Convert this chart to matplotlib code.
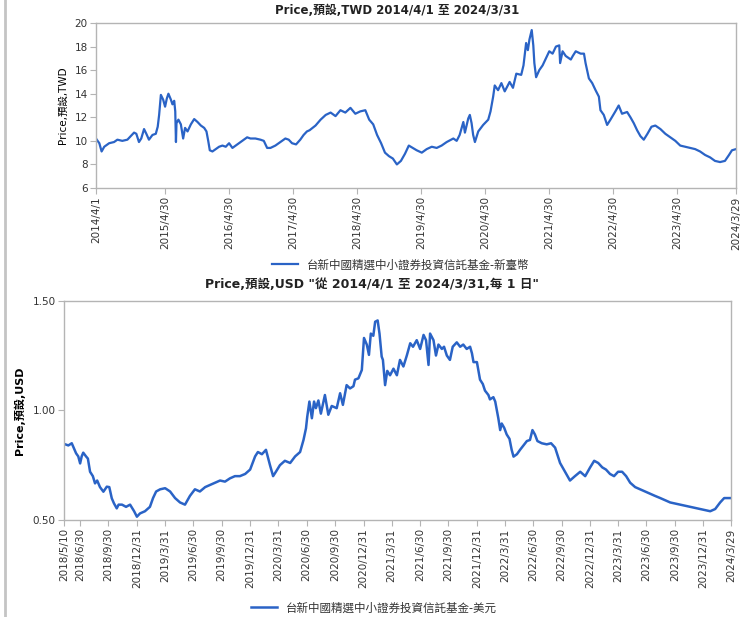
import matplotlib
matplotlib.use("Agg")
import matplotlib.pyplot as plt
from matplotlib.lines import Line2D
from matplotlib import font_manager
import pandas as pd

# ---------------- data: TWD series ----------------
twd_dates = [
    "2014-04-01", "2014-04-10", "2014-04-20", "2014-05-03", "2014-05-18", "2014-06-15", "2014-07-13",
    "2014-08-01", "2014-08-29", "2014-09-27", "2014-10-16", "2014-11-04", "2014-11-17", "2014-12-02",
    "2014-12-15", "2014-12-31", "2015-01-13", "2015-01-28", "2015-02-17", "2015-03-08", "2015-03-19",
    "2015-03-27", "2015-04-06", "2015-04-19", "2015-04-30", "2015-05-10", "2015-05-19", "2015-06-02",
    "2015-06-11", "2015-06-21", "2015-06-27", "2015-07-01", "2015-07-04", "2015-07-15", "2015-07-29",
    "2015-08-11", "2015-08-22", "2015-09-05", "2015-09-24", "2015-10-13", "2015-11-01", "2015-11-20",
    "2015-12-09", "2015-12-22", "2016-01-01", "2016-01-10", "2016-01-25", "2016-02-13", "2016-03-03",
    "2016-03-22", "2016-04-10", "2016-04-29", "2016-05-18", "2016-06-15", "2016-07-13", "2016-08-10",
    "2016-08-29", "2016-09-26", "2016-10-25", "2016-11-13", "2016-12-02", "2016-12-21", "2017-01-18",
    "2017-02-15", "2017-03-16", "2017-04-04", "2017-04-23", "2017-05-16", "2017-06-09", "2017-06-28",
    "2017-07-17", "2017-08-01", "2017-09-04", "2017-10-03", "2017-11-01", "2017-11-29", "2017-12-27",
    "2018-01-24", "2018-02-21", "2018-03-22", "2018-04-19", "2018-05-17", "2018-06-15", "2018-07-07",
    "2018-07-30", "2018-08-21", "2018-09-13", "2018-10-05", "2018-10-28", "2018-11-19", "2018-12-12",
    "2019-01-04", "2019-01-27", "2019-02-18", "2019-03-13", "2019-04-04", "2019-05-03", "2019-05-31",
    "2019-06-29", "2019-07-27", "2019-08-24", "2019-09-22", "2019-10-30", "2019-11-18", "2019-12-05",
    "2019-12-26", "2020-01-04", "2020-01-23", "2020-02-01", "2020-02-11", "2020-02-20", "2020-03-01",
    "2020-03-20", "2020-04-17", "2020-05-16", "2020-05-29", "2020-06-13", "2020-06-22", "2020-07-11",
    "2020-07-30", "2020-08-18", "2020-09-15", "2020-10-04", "2020-10-23", "2020-11-20", "2020-12-03",
    "2020-12-18", "2020-12-28", "2021-01-06", "2021-01-19", "2021-01-28", "2021-02-03", "2021-02-13",
    "2021-03-03", "2021-03-22", "2021-04-10", "2021-04-29", "2021-05-18", "2021-06-06", "2021-06-25",
    "2021-06-30", "2021-07-14", "2021-08-01", "2021-08-30", "2021-09-10", "2021-09-27", "2021-10-25",
    "2021-11-13", "2021-11-22", "2021-12-11", "2021-12-30", "2022-01-18", "2022-02-06", "2022-02-15",
    "2022-03-06", "2022-03-25", "2022-04-13", "2022-05-11", "2022-05-30", "2022-06-18", "2022-07-17",
    "2022-08-05", "2022-08-24", "2022-09-12", "2022-10-01", "2022-10-20", "2022-11-10", "2022-12-03",
    "2022-12-25", "2023-01-23", "2023-02-20", "2023-03-21", "2023-04-18", "2023-05-16", "2023-06-14",
    "2023-07-12", "2023-08-09", "2023-09-06", "2023-10-05", "2023-11-02", "2023-11-30", "2023-12-29",
    "2024-01-26", "2024-02-18", "2024-03-06", "2024-03-29",
]
twd_values = [
    10.2, 10.0, 9.8, 9.1, 9.5, 9.8, 9.9,
    10.1, 10.0, 10.1, 10.4, 10.7, 10.6, 9.9,
    10.2, 11.0, 10.6, 10.1, 10.5, 10.6, 11.2,
    12.2, 13.9, 13.5, 12.9, 13.6, 14.0, 13.5,
    13.1, 13.4, 12.5, 9.9, 11.5, 11.8, 11.4,
    10.2, 11.1, 10.8, 11.4, 11.85, 11.6, 11.3,
    11.1, 10.8, 10.0, 9.2, 9.1, 9.3, 9.5,
    9.6, 9.5, 9.8, 9.4, 9.7, 10.0, 10.3,
    10.2, 10.2, 10.1, 10.0, 9.4, 9.4, 9.6,
    9.9, 10.2, 10.1, 9.8, 9.7, 10.1, 10.5,
    10.8, 10.9, 11.3, 11.8, 12.2, 12.4, 12.1,
    12.6, 12.4, 12.8, 12.3, 12.5, 12.6, 11.8,
    11.4, 10.5, 9.8, 9.0, 8.7, 8.5, 8.0,
    8.3, 8.9, 9.6, 9.4, 9.2, 9.0, 9.3,
    9.5, 9.4, 9.6, 9.9, 10.2, 10.0, 10.5,
    11.6, 10.7, 11.9, 12.2, 11.5, 10.5, 9.9,
    10.8, 11.35, 11.8, 12.5, 13.75, 14.7, 14.3,
    14.9, 14.2, 15.0, 14.5, 15.7, 15.6, 16.4,
    18.3, 17.7, 18.6, 19.4, 18.1, 16.6, 15.4,
    16.0, 16.4, 17.0, 17.6, 17.4, 18.0, 18.1,
    16.6, 17.6, 17.2, 16.9, 17.2, 17.6, 17.4,
    17.4, 16.6, 15.3, 14.9, 14.3, 13.75, 12.6,
    12.2, 11.35, 11.8, 12.5, 13.0, 12.3, 12.45,
    12.0, 11.5, 10.9, 10.4, 10.1, 10.6, 11.2,
    11.3, 11.0, 10.6, 10.3, 10.0, 9.6, 9.5,
    9.4, 9.3, 9.1, 8.8, 8.6, 8.3, 8.2,
    8.3, 8.8, 9.2, 9.3,
]

# ---------------- data: USD series ----------------
usd_dates = [
    "2018-05-10", "2018-05-24", "2018-06-04", "2018-06-18", "2018-06-25", "2018-07-01", "2018-07-06",
    "2018-07-11", "2018-07-20", "2018-07-26", "2018-08-02", "2018-08-11", "2018-08-18", "2018-08-25",
    "2018-09-03", "2018-09-14", "2018-09-25", "2018-10-03", "2018-10-11", "2018-10-18", "2018-10-27",
    "2018-11-02", "2018-11-13", "2018-11-26", "2018-12-09", "2018-12-22", "2018-12-31", "2019-01-10",
    "2019-01-26", "2019-02-11", "2019-02-21", "2019-03-03", "2019-03-16", "2019-04-01", "2019-04-17",
    "2019-05-03", "2019-05-19", "2019-06-04", "2019-06-20", "2019-07-06", "2019-07-22", "2019-08-08",
    "2019-08-24", "2019-09-09", "2019-09-25", "2019-10-11", "2019-10-27", "2019-11-12", "2019-11-28",
    "2019-12-15", "2019-12-31", "2020-01-16", "2020-01-25", "2020-02-07", "2020-02-20", "2020-03-04",
    "2020-03-14", "2020-03-23", "2020-04-05", "2020-04-21", "2020-05-08", "2020-05-24", "2020-06-09",
    "2020-06-20", "2020-06-28", "2020-07-02", "2020-07-09", "2020-07-17", "2020-07-24", "2020-07-30",
    "2020-08-07", "2020-08-15", "2020-08-28", "2020-09-08", "2020-09-19", "2020-10-05", "2020-10-16",
    "2020-10-25", "2020-11-06", "2020-11-17", "2020-11-28", "2020-12-03", "2020-12-14", "2020-12-25",
    "2021-01-01", "2021-01-10", "2021-01-17", "2021-01-23", "2021-01-31", "2021-02-06", "2021-02-14",
    "2021-02-20", "2021-02-27", "2021-03-03", "2021-03-10", "2021-03-17", "2021-03-26", "2021-04-06",
    "2021-04-17", "2021-04-27", "2021-05-08", "2021-05-19", "2021-05-30", "2021-06-08", "2021-06-20",
    "2021-07-01", "2021-07-12", "2021-07-20", "2021-07-28", "2021-08-02", "2021-08-13", "2021-08-21",
    "2021-08-29", "2021-09-09", "2021-09-16", "2021-09-25", "2021-10-05", "2021-10-14", "2021-10-27",
    "2021-11-07", "2021-11-17", "2021-11-28", "2021-12-09", "2021-12-15", "2021-12-20", "2021-12-31",
    "2022-01-10", "2022-01-19", "2022-01-26", "2022-02-06", "2022-02-11", "2022-02-22", "2022-02-28",
    "2022-03-10", "2022-03-16", "2022-03-21", "2022-03-29", "2022-04-06", "2022-04-15", "2022-04-22",
    "2022-04-28", "2022-05-09", "2022-05-19", "2022-05-30", "2022-06-10", "2022-06-20", "2022-06-28",
    "2022-07-06", "2022-07-14", "2022-07-28", "2022-08-13", "2022-08-27", "2022-09-09", "2022-09-25",
    "2022-10-11", "2022-10-27", "2022-11-12", "2022-11-29", "2022-12-15", "2022-12-31", "2023-01-13",
    "2023-01-26", "2023-02-08", "2023-02-20", "2023-03-05", "2023-03-18", "2023-03-31", "2023-04-13",
    "2023-04-26", "2023-05-09", "2023-05-25", "2023-06-10", "2023-06-26", "2023-07-12", "2023-07-28",
    "2023-08-14", "2023-08-30", "2023-09-15", "2023-10-01", "2023-10-17", "2023-11-02", "2023-11-18",
    "2023-12-04", "2023-12-20", "2024-01-06", "2024-01-22", "2024-02-07", "2024-02-23", "2024-03-07",
    "2024-03-29",
]
usd_values = [
    0.847, 0.84, 0.85, 0.804, 0.79, 0.758, 0.79,
    0.807, 0.79, 0.78, 0.72, 0.70, 0.667, 0.68,
    0.65, 0.629, 0.652, 0.65, 0.599, 0.576, 0.553,
    0.57, 0.57, 0.56, 0.57, 0.54, 0.515, 0.53,
    0.54, 0.56, 0.60, 0.63, 0.64, 0.645, 0.63,
    0.60, 0.58, 0.57, 0.61, 0.64, 0.63, 0.65,
    0.66, 0.67, 0.68, 0.675, 0.69, 0.70, 0.70,
    0.71, 0.73, 0.79, 0.81, 0.80, 0.82, 0.75,
    0.70, 0.72, 0.75, 0.77, 0.76, 0.79, 0.81,
    0.865, 0.918, 0.97, 1.04, 0.964, 1.04, 1.01,
    1.045, 0.985, 1.07, 0.98, 1.02, 1.01, 1.078,
    1.025, 1.115, 1.10, 1.11, 1.14, 1.146, 1.184,
    1.33, 1.30, 1.253, 1.35, 1.34, 1.404, 1.41,
    1.35, 1.245, 1.23, 1.115, 1.18, 1.16, 1.19,
    1.16, 1.23, 1.20, 1.25, 1.306, 1.29, 1.32,
    1.28, 1.344, 1.32, 1.207, 1.35, 1.32, 1.25,
    1.30, 1.28, 1.29, 1.25, 1.23, 1.29, 1.31,
    1.29, 1.30, 1.28, 1.29, 1.26, 1.22, 1.22,
    1.14, 1.12, 1.09, 1.07, 1.05, 1.06, 1.04,
    0.964, 0.91, 0.94, 0.92, 0.89, 0.87, 0.82,
    0.789, 0.80, 0.82, 0.84, 0.86, 0.865, 0.91,
    0.89, 0.86, 0.85, 0.845, 0.85, 0.83, 0.76,
    0.72, 0.68, 0.70, 0.72, 0.70, 0.74, 0.77,
    0.76, 0.74, 0.73, 0.71, 0.70, 0.72, 0.72,
    0.70, 0.67, 0.65, 0.64, 0.63, 0.62, 0.61,
    0.60, 0.59, 0.58, 0.575, 0.57, 0.565, 0.56,
    0.555, 0.55, 0.545, 0.54, 0.55, 0.58, 0.60,
    0.60,
]

# ---------------- tick labels ----------------
twd_ticks = ["2014-04-01", "2015-04-30", "2016-04-30", "2017-04-30", "2018-04-30", "2019-04-30",
             "2020-04-30", "2021-04-30", "2022-04-30", "2023-04-30", "2024-03-29"]
usd_ticks = ["2018-05-10", "2018-06-30", "2018-09-30", "2018-12-31", "2019-03-31", "2019-06-30",
             "2019-09-30", "2019-12-31", "2020-03-31", "2020-06-30", "2020-09-30", "2020-12-31",
             "2021-03-31", "2021-06-30", "2021-09-30", "2021-12-31", "2022-03-31", "2022-06-30",
             "2022-09-30", "2022-12-31", "2023-03-31", "2023-06-30", "2023-09-30", "2023-12-31",
             "2024-03-29"]
twd_yticks = [6, 8, 10, 12, 14, 16, 18, 20]
usd_yticks = [0.5, 1.0, 1.5]

twd_title = "Price,預設,TWD 2014/4/1 至 2024/3/31"
usd_title = "Price,預設,USD \"從 2014/4/1 至 2024/3/31,每 1 日\""
twd_ylabel = "Price,預設,TWD"
usd_ylabel = "Price,預設,USD"
twd_legend = "台新中國精選中小證券投資信託基金-新臺幣"
usd_legend = "台新中國精選中小證券投資信託基金-美元"

# ---------------- styling ----------------
LINE = "#2a63c6"
SPINE = "#b4b4b4"
TXT = "#333333"
_names = {f.name for f in font_manager.fontManager.ttflist}
NARROW_BASE = "Liberation Sans Narrow" if "Liberation Sans Narrow" in _names else "DejaVu Sans"
SANS = ["DejaVu Sans", "Noto Sans CJK TC"]
NARROW = [NARROW_BASE, "Noto Sans CJK TC"]
CJK = ["Noto Sans CJK TC", "DejaVu Sans"]

fig = plt.figure(figsize=(7.52, 6.17), dpi=100)
fig.patch.set_facecolor("white")


def label(d):
    d = pd.Timestamp(d)
    return f"{d.year}/{d.month}/{d.day}"


def style(ax, xticks, yticks, yfmt, ylabel, ylabel_bold, ylsize):
    for s in ax.spines.values():
        s.set_color(SPINE)
        s.set_linewidth(1.0)
    xt = pd.to_datetime(xticks)
    ax.set_xticks(xt)
    ax.set_xticklabels([label(d) for d in xticks], rotation=90, family=NARROW,
                       fontsize=7.5, color=TXT)
    ax.set_yticks(yticks)
    ax.set_yticklabels([yfmt.format(v) for v in yticks], family=SANS, fontsize=7.5, color=TXT)
    ax.tick_params(axis="both", direction="out", length=4, width=0.8, color=SPINE, pad=2)
    ax.set_ylabel(ylabel, family=NARROW, fontsize=ylsize, color="black",
                  fontweight="bold" if ylabel_bold else "normal")


# Top chart
ax1 = fig.add_axes([96 / 752, 1 - 188 / 617, 640 / 752, 165 / 617])
ax1.plot(pd.to_datetime(twd_dates), twd_values, color=LINE, lw=1.6, label=twd_legend)
ax1.set_xlim(pd.Timestamp("2014-04-01"), pd.Timestamp("2024-03-29"))
ax1.set_ylim(6, 20)
style(ax1, twd_ticks, twd_yticks, "{:.0f}", twd_ylabel, False, 7.5)
ax1.yaxis.set_label_coords(-0.044, 0.5)
fig.text(397 / 752, 1 - 11 / 617, twd_title, ha="center", va="center", family=SANS,
         fontsize=8.5, fontweight="bold", color="#222222")
ax1.legend(loc="center", bbox_to_anchor=(401 / 752, 1 - 265 / 617), bbox_transform=fig.transFigure,
           frameon=False, prop={"family": CJK, "size": 8.3}, handlelength=2.2, labelcolor=TXT)

# Bottom chart
ax2 = fig.add_axes([64 / 752, 1 - 520 / 617, 667 / 752, 219.3 / 617])
ax2.plot(pd.to_datetime(usd_dates), usd_values, color=LINE, lw=1.8, label=usd_legend)
ax2.set_xlim(pd.Timestamp("2018-05-10"), pd.Timestamp("2024-03-29"))
ax2.set_ylim(0.5, 1.5)
style(ax2, usd_ticks, usd_yticks, "{:.2f}", usd_ylabel, True, 8)
ax2.yaxis.set_label_coords(-0.058, 0.5)
fig.text(372 / 752, 1 - 285 / 617, usd_title, ha="center", va="center", family=SANS,
         fontsize=9, fontweight="bold", color="#222222")
ax2.legend(loc="center", bbox_to_anchor=(374 / 752, 1 - 608 / 617), bbox_transform=fig.transFigure,
           frameon=False, prop={"family": CJK, "size": 8.3}, handlelength=2.2, labelcolor=TXT)

# left border line
fig.add_artist(Line2D([5 / 752, 5 / 752], [0, 1], transform=fig.transFigure, color="#c4c4c4", lw=2))

fig.savefig("out.png", dpi=100)
